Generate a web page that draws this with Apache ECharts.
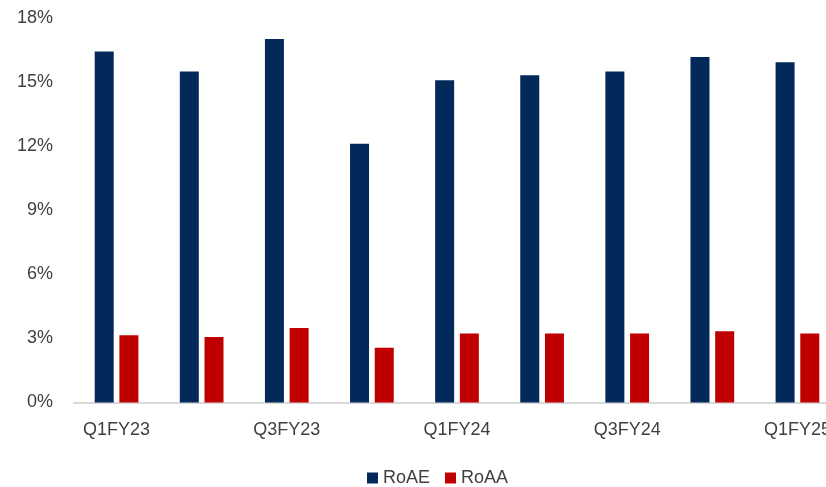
<!DOCTYPE html>
<html>
<head>
<meta charset="utf-8">
<script src="https://cdn.jsdelivr.net/npm/echarts@6/dist/echarts.min.js"></script>
<style>
html,body{margin:0;padding:0;background:#fff;}
#chart{width:826px;height:487px;}
</style>
</head>
<body>
<div id="chart"></div>
<script>
const categories = ['Q1FY23','Q2FY23','Q3FY23','Q4FY23','Q1FY24','Q2FY24','Q3FY24','Q4FY24','Q1FY25'];
const roae = [16.45, 15.52, 17.04, 12.13, 15.10, 15.34, 15.52, 16.20, 15.95];
const roaa = [3.15, 3.07, 3.49, 2.57, 3.24, 3.24, 3.24, 3.34, 3.24];
const yTicks = [0, 3, 6, 9, 12, 15, 18];

const chart = echarts.init(document.getElementById('chart'));
const font = 'Liberation Sans, Arial, sans-serif';
chart.setOption({
  animation: false,
  grid: { left: 74, top: 18.5, width: 766, height: 384, containLabel: false, outerBoundsMode: 'none' },
  legend: {
    left: 362, top: 464,
    icon: 'rect',
    itemWidth: 11, itemHeight: 11, itemGap: 15,
    textStyle: { fontFamily: font, fontSize: 18, color: '#404040' },
    data: ['RoAE', 'RoAA']
  },
  xAxis: {
    type: 'category',
    data: categories,
    axisLine: { lineStyle: { color: '#d9d9d9', width: 2 } },
    axisTick: { show: false },
    axisLabel: { interval: 1, margin: 19, fontFamily: font, fontSize: 18, color: '#404040', hideOverlap: false }
  },
  yAxis: {
    type: 'value',
    min: yTicks[0], max: yTicks[yTicks.length - 1], interval: 3,
    splitLine: { show: false },
    axisLine: { show: false },
    axisTick: { show: false },
    axisLabel: { margin: 21, padding: [8,0,0,0], fontFamily: font, fontSize: 18, color: '#404040', formatter: v => v + '%' }
  },
  series: [
    { name: 'RoAE', type: 'bar', data: roae, barWidth: 19, barGap: '30%',
      itemStyle: { color: '#03295A' } },
    { name: 'RoAA', type: 'bar', data: roaa, barWidth: 19, barGap: '30%',
      itemStyle: { color: '#C00000' } }
  ]
});
</script>
</body>
</html>
